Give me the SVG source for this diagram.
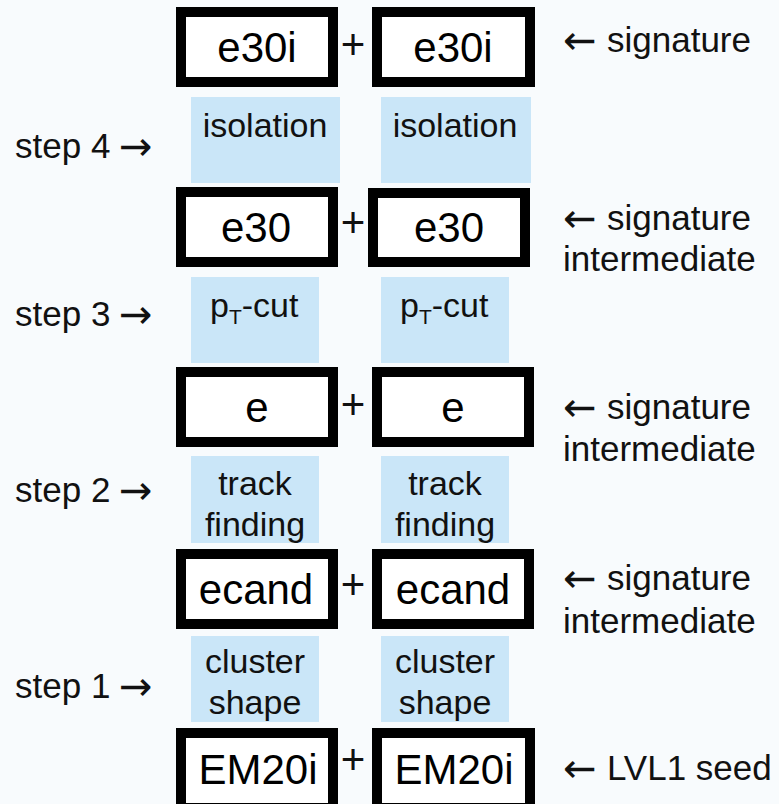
<svg xmlns="http://www.w3.org/2000/svg" width="779" height="804" viewBox="0 0 779 804">
<style>
  text { font-family: "Liberation Sans", Arial, "DejaVu Sans", sans-serif; fill: #111; }
  .box { fill: #ffffff; stroke: #000; stroke-width: 10; }
  .blue { fill: #cae6f8; }
  .bt { font-size: 42px; text-anchor: middle; fill: #000; }
  .lt { font-size: 34px; text-anchor: middle; }
  .st { font-size: 35px; }
  .ar { font-family: "DejaVu Sans", sans-serif; font-size: 40px; fill: #111; }
  .plus { font-size: 42px; text-anchor: middle; }
</style>
<rect width="779" height="804" fill="#f8fbfd"/>

<g id="connectors"></g>

<!-- Row 1: signature -->
<g id="sig-e30i-left"><rect class="box" x="181" y="12" width="152" height="70"/><text class="bt" x="257" y="62">e30i</text></g>
<g id="plus-1"><text class="plus" x="353" y="59">+</text></g>
<g id="sig-e30i-right"><rect class="box" x="377" y="12" width="153" height="70"/><text class="bt" x="453" y="62">e30i</text></g>
<g id="label-1"><text class="ar" x="563" y="54">←</text><text class="st" x="607" y="52">signature</text></g>

<g id="step4-left"><rect class="blue" x="191" y="97" width="149" height="86"/><text class="lt" x="265" y="137">isolation</text></g>
<g id="step4-right"><rect class="blue" x="381" y="97" width="150" height="86"/><text class="lt" x="455" y="137">isolation</text></g>
<g id="step4-label"><text class="st" x="15" y="158">step 4</text><text class="ar" x="119" y="160">→</text></g>

<!-- Row 2 -->
<g id="e30-left"><rect class="box" x="181" y="192" width="152" height="70"/><text class="bt" x="256" y="242">e30</text></g>
<g id="plus-2"><text class="plus" x="353" y="237">+</text></g>
<g id="e30-right"><rect class="box" x="373" y="193" width="152" height="69"/><text class="bt" x="449" y="242">e30</text></g>
<g id="label-2"><text class="ar" x="563" y="232">←</text><text class="st" x="607" y="230">signature</text><text class="st" x="563" y="271">intermediate</text></g>

<g id="step3-left"><rect class="blue" x="191" y="277" width="128" height="86"/><text class="lt" x="210" y="317" style="text-anchor:start">p<tspan font-size="21" dy="7">T</tspan><tspan dy="-7">-cut</tspan></text></g>
<g id="step3-right"><rect class="blue" x="381" y="277" width="128" height="86"/><text class="lt" x="400" y="317" style="text-anchor:start">p<tspan font-size="21" dy="7">T</tspan><tspan dy="-7">-cut</tspan></text></g>
<g id="step3-label"><text class="st" x="15" y="326">step 3</text><text class="ar" x="119" y="328">→</text></g>

<!-- Row 3 -->
<g id="e-left"><rect class="box" x="181" y="372" width="152" height="70"/><text class="bt" x="257" y="422">e</text></g>
<g id="plus-3"><text class="plus" x="353" y="419">+</text></g>
<g id="e-right"><rect class="box" x="377" y="372" width="152" height="70"/><text class="bt" x="453" y="422">e</text></g>
<g id="label-3"><text class="ar" x="563" y="421">←</text><text class="st" x="607" y="419">signature</text><text class="st" x="563" y="461">intermediate</text></g>

<g id="step2-left"><rect class="blue" x="191" y="456" width="128" height="87"/><text class="lt" x="255" y="495">track</text><text class="lt" x="255" y="536">finding</text></g>
<g id="step2-right"><rect class="blue" x="381" y="456" width="128" height="87"/><text class="lt" x="445" y="495">track</text><text class="lt" x="445" y="536">finding</text></g>
<g id="step2-label"><text class="st" x="15" y="502">step 2</text><text class="ar" x="119" y="504">→</text></g>

<!-- Row 4 -->
<g id="ecand-left"><rect class="box" x="181" y="554" width="152" height="70"/><text class="bt" x="256" y="604">ecand</text></g>
<g id="plus-4"><text class="plus" x="353" y="599">+</text></g>
<g id="ecand-right"><rect class="box" x="377" y="554" width="152" height="70"/><text class="bt" x="453" y="604">ecand</text></g>
<g id="label-4"><text class="ar" x="563" y="592">←</text><text class="st" x="607" y="590">signature</text><text class="st" x="563" y="633">intermediate</text></g>

<g id="step1-left"><rect class="blue" x="191" y="636" width="128" height="86"/><text class="lt" x="255" y="673">cluster</text><text class="lt" x="255" y="714">shape</text></g>
<g id="step1-right"><rect class="blue" x="381" y="636" width="128" height="86"/><text class="lt" x="445" y="673">cluster</text><text class="lt" x="445" y="714">shape</text></g>
<g id="step1-label"><text class="st" x="15" y="698">step 1</text><text class="ar" x="119" y="700">→</text></g>

<!-- Row 5: seed -->
<g id="em20i-left"><rect class="box" x="181" y="733" width="152" height="75"/><text class="bt" x="258" y="784">EM20i</text></g>
<g id="plus-5"><text class="plus" x="353" y="774">+</text></g>
<g id="em20i-right"><rect class="box" x="377" y="733" width="153" height="75"/><text class="bt" x="454" y="784">EM20i</text></g>
<g id="label-5"><text class="ar" x="563" y="782">←</text><text class="st" x="607" y="780">LVL1 seed</text></g>
</svg>
